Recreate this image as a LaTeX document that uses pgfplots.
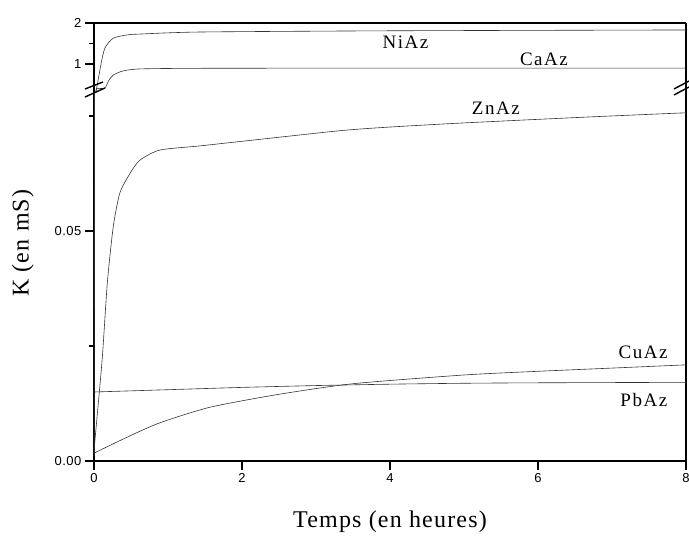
\documentclass[border=0pt]{standalone}
\usepackage{fontspec}
\setmainfont{Liberation Serif}
\setsansfont{Liberation Sans}
\newfontfamily\lblfont[LetterSpace=5]{Liberation Serif}
\newfontfamily\curvefont[LetterSpace=8]{Liberation Serif}
\newfontfamily\tickfont[LetterSpace=4]{Liberation Sans}
\usepackage{pgfplots}
\pgfplotsset{compat=1.18}

\pgfplotstableread{
t v
0 0.001
0.03 0.35
0.05 0.55
0.10 1.05
0.15 1.40
0.26 1.63
0.45 1.71
0.62 1.73
1.43 1.78
4 1.81
8 1.83
}\NiAz
\pgfplotstableread{
t v
0 0.001
0.03 0.39
0.06 0.40
0.15 0.42
0.20 0.60
0.26 0.73
0.39 0.83
0.62 0.88
1.4 0.895
4 0.90
8 0.90
}\CaAz
\pgfplotstableread{
t v
0 0.0013
0.01 0.004
0.11 0.022
0.18 0.0387
0.26 0.0509
0.35 0.0583
0.49 0.0626
0.62 0.0654
0.89 0.0676
1.43 0.0685
2 0.0695
3.32 0.0718
4 0.0726
5 0.0735
6.7 0.0748
8 0.0757
}\ZnAz
\pgfplotstableread{
t v
0 0.0017
0.45 0.0052
0.89 0.0083
1.57 0.0117
2.5 0.0145
3.5 0.0168
5 0.0187
6 0.0195
7 0.0202
8 0.0209
}\CuAz
\pgfplotstableread{
t v
0 0.0150
1 0.0155
2 0.0160
3 0.0164
4 0.0167
5 0.0169
6 0.0170
8 0.0171
}\PbAz

\pgfplotsset{
  common/.style={
    scale only axis, width=592pt,
    xmin=0, xmax=8,
    axis line style={line width=1.8pt,-},
    x axis line style={-}, y axis line style={-},
    tick align=outside,
    major tick length=9pt, minor tick length=5pt,
    every tick/.style={line width=1.8pt,black},
    ytick pos=left,
    scaled y ticks=false,
    tick label style={font=\tickfont\fontsize{13}{13}\selectfont},
    /pgf/number format/assume math mode=true,
    clip=true,
  },
  curve/.style={black!80, line width=0.6pt, smooth, tension=0.4},
}

\begin{document}
\begin{tikzpicture}[x=1pt,y=1pt]
\useasboundingbox (-94pt,-75pt) rectangle (595pt,461pt);
\begin{axis}[common,
  at={(0pt,0pt)}, anchor=south west,
  height=368pt,
  ymin=0, ymax=0.08,
  axis x line*=bottom, axis y line*=box,
  xtick={0,2,4,6,8}, xtick pos=bottom,
  ytick={0,0.05}, yticklabels={0.00,0.05},
  minor ytick={0.025,0.075},
  xlabel={\lblfont\fontsize{24}{24}\selectfont Temps (en heures)},
  xlabel style={at={(axis description cs:0.5,-0.166)}, anchor=center},
  ylabel={\lblfont\fontsize{24}{24}\selectfont K (en mS)},
  ylabel style={at={(axis description cs:-0.12,0.592)}, anchor=center, rotate=0},
]
\addplot[curve] table[x=t,y=v] {\NiAz};
\addplot[curve] table[x=t,y=v] {\CaAz};
\addplot[curve] table[x=t,y=v] {\ZnAz};
\addplot[curve] table[x=t,y=v] {\CuAz};
\addplot[curve] table[x=t,y=v] {\PbAz};
\node[font=\curvefont\fontsize{19}{19}\selectfont] at (axis cs:5.43,0.0767) {ZnAz};
\node[font=\curvefont\fontsize{19}{19}\selectfont] at (axis cs:7.42,0.0237) {CuAz};
\node[font=\curvefont\fontsize{19}{19}\selectfont] at (axis cs:7.43,0.01326) {PbAz};
\end{axis}
\begin{axis}[common,
  at={(0pt,368pt)}, anchor=south west,
  height=70pt,
  ymin=0.293, ymax=2,
  axis x line*=top, axis y line*=box,
  xtick=\empty,
  ytick={1,2}, yticklabels={1,2},
  minor ytick={1.5},
]
\addplot[curve] table[x=t,y=v] {\NiAz};
\addplot[curve] table[x=t,y=v] {\CaAz};
\node[font=\curvefont\fontsize{19}{19}\selectfont] at (axis cs:4.21,1.54) {NiAz};
\node[font=\curvefont\fontsize{19}{19}\selectfont] at (axis cs:6.08,1.12) {CaAz};
\end{axis}
\draw[line width=1.4pt] (-9pt,372pt) -- (9pt,379pt);
\draw[line width=1.4pt] (-9pt,364pt) -- (11pt,373pt);
\draw[line width=1.4pt] (580pt,366pt) -- (595pt,374pt);
\draw[line width=1.4pt] (580pt,372pt) -- (595pt,380pt);
\end{tikzpicture}
\end{document}
